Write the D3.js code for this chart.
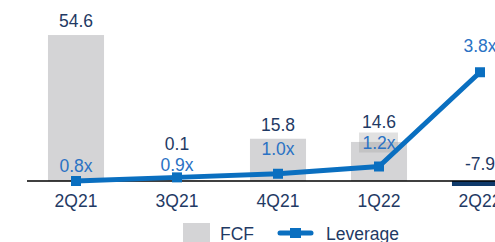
<!DOCTYPE html>
<html>
<head>
<meta charset="utf-8">
<script src="https://cdn.jsdelivr.net/npm/d3@7"></script>
<style>
  body { margin: 0; background: #fff; }
  text { font-family: "Liberation Sans", Arial, sans-serif; }
</style>
</head>
<body>
<div id="chart"></div>
<script>
// data
const quarters = ["2Q21", "3Q21", "4Q21", "1Q22", "2Q22"];
const fcf = [54.6, 0.1, 15.8, 14.6, -7.9];
const leverage = [0.8, 0.9, 1.0, 1.2, 3.8];
const levLabels = ["0.8x", "0.9x", "1.0x", "1.2x", "3.8x"];
// how far each leverage label sits above its point (px)
const levLift = [9, 6, 19, 18, 20];

const width = 495, height = 242;
const navy = "#1f3a64", blue = "#0a6fc0", gray = "#d4d4d6";
const fs = 17.5;

const svg = d3.select("#chart").append("svg")
  .attr("width", width)
  .attr("height", height);

const x = d3.scalePoint().domain(quarters).range([76, 480]);
const barW = x.step() * 0.555;

const y = d3.scaleLinear().domain([-10, 60]).range([207.7, 20.6]);
const yLev = d3.scaleLinear().domain([0, 4]).range([210, 65]);

// plot area clip (negative bar is cut just under the axis)
svg.append("clipPath").attr("id", "plot")
  .append("rect")
  .attr("x", 0).attr("y", 0)
  .attr("width", width).attr("height", y(0) + 5);

const bars = svg.append("g").attr("clip-path", "url(#plot)");
bars.selectAll("rect")
  .data(fcf)
  .enter().append("rect")
  .attr("x", (d, i) => x(quarters[i]) - barW / 2)
  .attr("y", d => y(Math.max(0, d)))
  .attr("width", barW)
  .attr("height", d => Math.abs(y(d) - y(0)))
  .attr("fill", d => d < 0 ? "#0f3a6b" : gray);

// axis line
svg.append("line")
  .attr("x1", 27).attr("x2", width)
  .attr("y1", y(0)).attr("y2", y(0))
  .attr("stroke", "#000")
  .attr("stroke-width", 1.5);

// leverage label positions
const levY = leverage.map((d, i) => yLev(d) - levLift[i]);

// label background box for 1Q22 leverage
svg.append("rect")
  .attr("x", x("1Q22") - 20).attr("y", levY[3] - 16)
  .attr("width", 39).attr("height", 20)
  .attr("fill", "#9a9a9a")
  .attr("opacity", 0.3);

// leverage line
const line = d3.line()
  .x((d, i) => x(quarters[i]))
  .y(d => yLev(d));

svg.append("path")
  .datum(leverage)
  .attr("d", line)
  .attr("fill", "none")
  .attr("stroke", blue)
  .attr("stroke-width", 5)
  .attr("stroke-linejoin", "round");

svg.selectAll(".mk")
  .data(leverage)
  .enter().append("rect")
  .attr("class", "mk")
  .attr("x", (d, i) => x(quarters[i]) - 5)
  .attr("y", d => yLev(d) - 5)
  .attr("width", 10).attr("height", 10)
  .attr("fill", blue);

// leverage labels
svg.selectAll(".lev")
  .data(levLabels)
  .enter().append("text")
  .attr("class", "lev")
  .attr("x", (d, i) => x(quarters[i]))
  .attr("y", (d, i) => levY[i])
  .attr("text-anchor", "middle")
  .attr("font-size", fs)
  .attr("fill", "#2a72c4")
  .text(d => d);

// fcf labels: above the bar (or the axis), pushed up if they collide with a leverage label
function fcfLabelY(d, i) {
  const base = d < 0 ? y(0) - 11 : y(d) - 8;
  return Math.abs(levY[i] - base) < 21 ? levY[i] - 21 : base;
}

svg.selectAll(".fcf")
  .data(fcf)
  .enter().append("text")
  .attr("class", "fcf")
  .attr("x", (d, i) => x(quarters[i]))
  .attr("y", fcfLabelY)
  .attr("text-anchor", "middle")
  .attr("font-size", fs)
  .attr("fill", navy)
  .text(d => d.toFixed(1));

// category labels
svg.selectAll(".cat")
  .data(quarters)
  .enter().append("text")
  .attr("class", "cat")
  .attr("x", d => x(d))
  .attr("y", y(0) + 26)
  .attr("text-anchor", "middle")
  .attr("font-size", fs)
  .attr("fill", navy)
  .text(d => d);

// legend
const lg = svg.append("g").attr("transform", "translate(183,223)");
lg.append("rect").attr("width", 27).attr("height", 22).attr("fill", gray);
lg.append("text").attr("x", 37).attr("y", 17).attr("font-size", fs).attr("fill", navy).text("FCF");
lg.append("line").attr("x1", 97).attr("x2", 128).attr("y1", 10).attr("y2", 10)
  .attr("stroke", blue).attr("stroke-width", 5).attr("stroke-linecap", "round");
lg.append("rect").attr("x", 107).attr("y", 5).attr("width", 11).attr("height", 10).attr("fill", blue);
lg.append("text").attr("x", 143).attr("y", 17).attr("font-size", fs).attr("fill", navy).text("Leverage");
</script>
</body>
</html>
